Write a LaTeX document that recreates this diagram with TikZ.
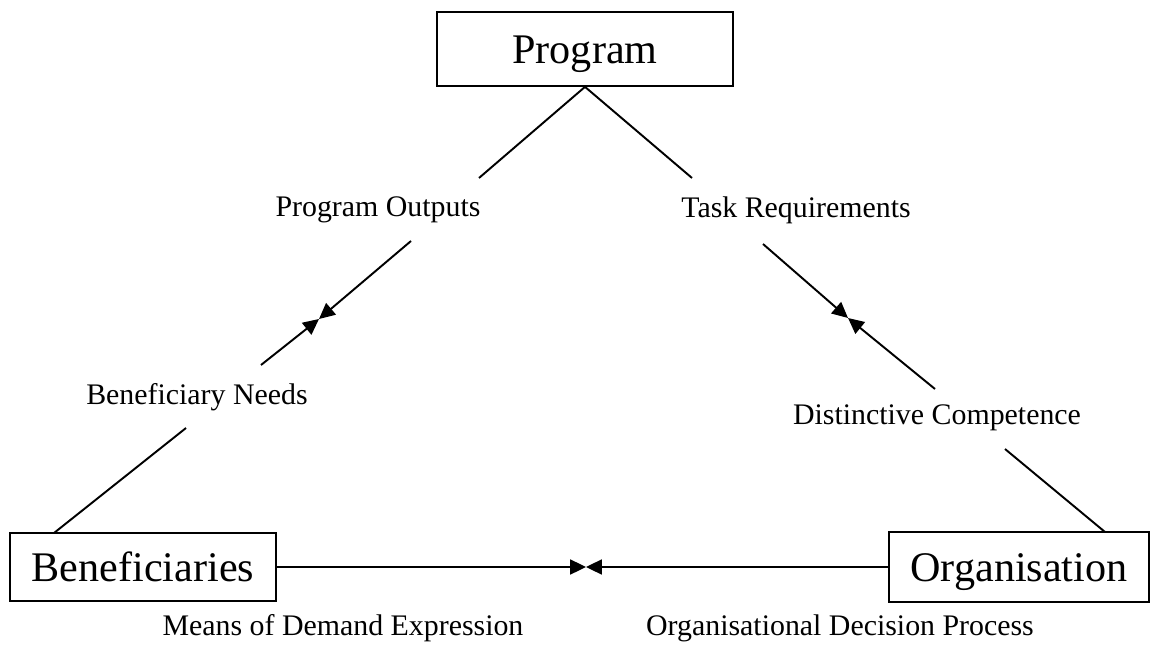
\documentclass[tikz,border=0pt]{standalone}
\usepackage{fontspec}
\setmainfont{Liberation Serif}
\usetikzlibrary{arrows.meta}

\tikzset{
	party/.style={draw, line width=1pt, inner sep=0pt, text height=16.5pt, text depth=0pt, font=\fontsize{24}{28}\selectfont},
	lbl/.style={inner sep=0pt, font=\fontsize{17}{20}\selectfont},
	link/.style={line width=1.1pt},
	meet/.style={line width=1.1pt, -{Triangle[length=9pt,width=8.5pt]}}
}

\begin{document}
\begin{tikzpicture}[x=0.02cm, y=-0.02cm]
	\useasboundingbox (0,0) rectangle (1159,648);
	\node[party, minimum width=5.92cm, minimum height=1.48cm] (prog) at (585,49) {Program};
	\node[party, minimum width=5.32cm, minimum height=1.36cm] (ben) at (143,567) {Beneficiaries};
	\node[party, minimum width=5.2cm, minimum height=1.4cm] (org) at (1019,567) {Organisation};
	\node[lbl] (outputs) at (378,210) {Program Outputs};
	\node[lbl] (taskreq) at (796,210) {Task Requirements};
	\node[lbl] (needs) at (197,397) {Beneficiary Needs};
	\node[lbl] (distinct) at (937,418) {Distinctive Competence};
	\node[lbl] (means) at (343,628) {Means of Demand Expression};
	\node[lbl] (orgdec) at (840,628) {Organisational Decision Process};
	\coordinate (pl1) at (479,178);
	\coordinate (pl2) at (411,241);
	\coordinate (meetl) at (319,319);
	\coordinate (nl1) at (261,365);
	\coordinate (nl2) at (186,428);
	\coordinate (bentop) at (54,533);
	\coordinate (pr1) at (692,178);
	\coordinate (pr2) at (763,244);
	\coordinate (meetr) at (848,318);
	\coordinate (dc1) at (935,389);
	\coordinate (dc2) at (1005,449);
	\coordinate (orgtop) at (1105,532);
	\coordinate (meetb) at (586,567);
	\draw[link] (prog.south) -- (pl1);
	\draw[meet] (pl2) -- (meetl);
	\draw[meet] (nl1) -- (meetl);
	\draw[link] (nl2) -- (bentop);
	\draw[link] (prog.south) -- (pr1);
	\draw[meet] (pr2) -- (meetr);
	\draw[meet] (dc1) -- (meetr);
	\draw[link] (dc2) -- (orgtop);
	\draw[meet] (ben.east) -- (meetb);
	\draw[meet] (org.west) -- (meetb);
\end{tikzpicture}
\end{document}
